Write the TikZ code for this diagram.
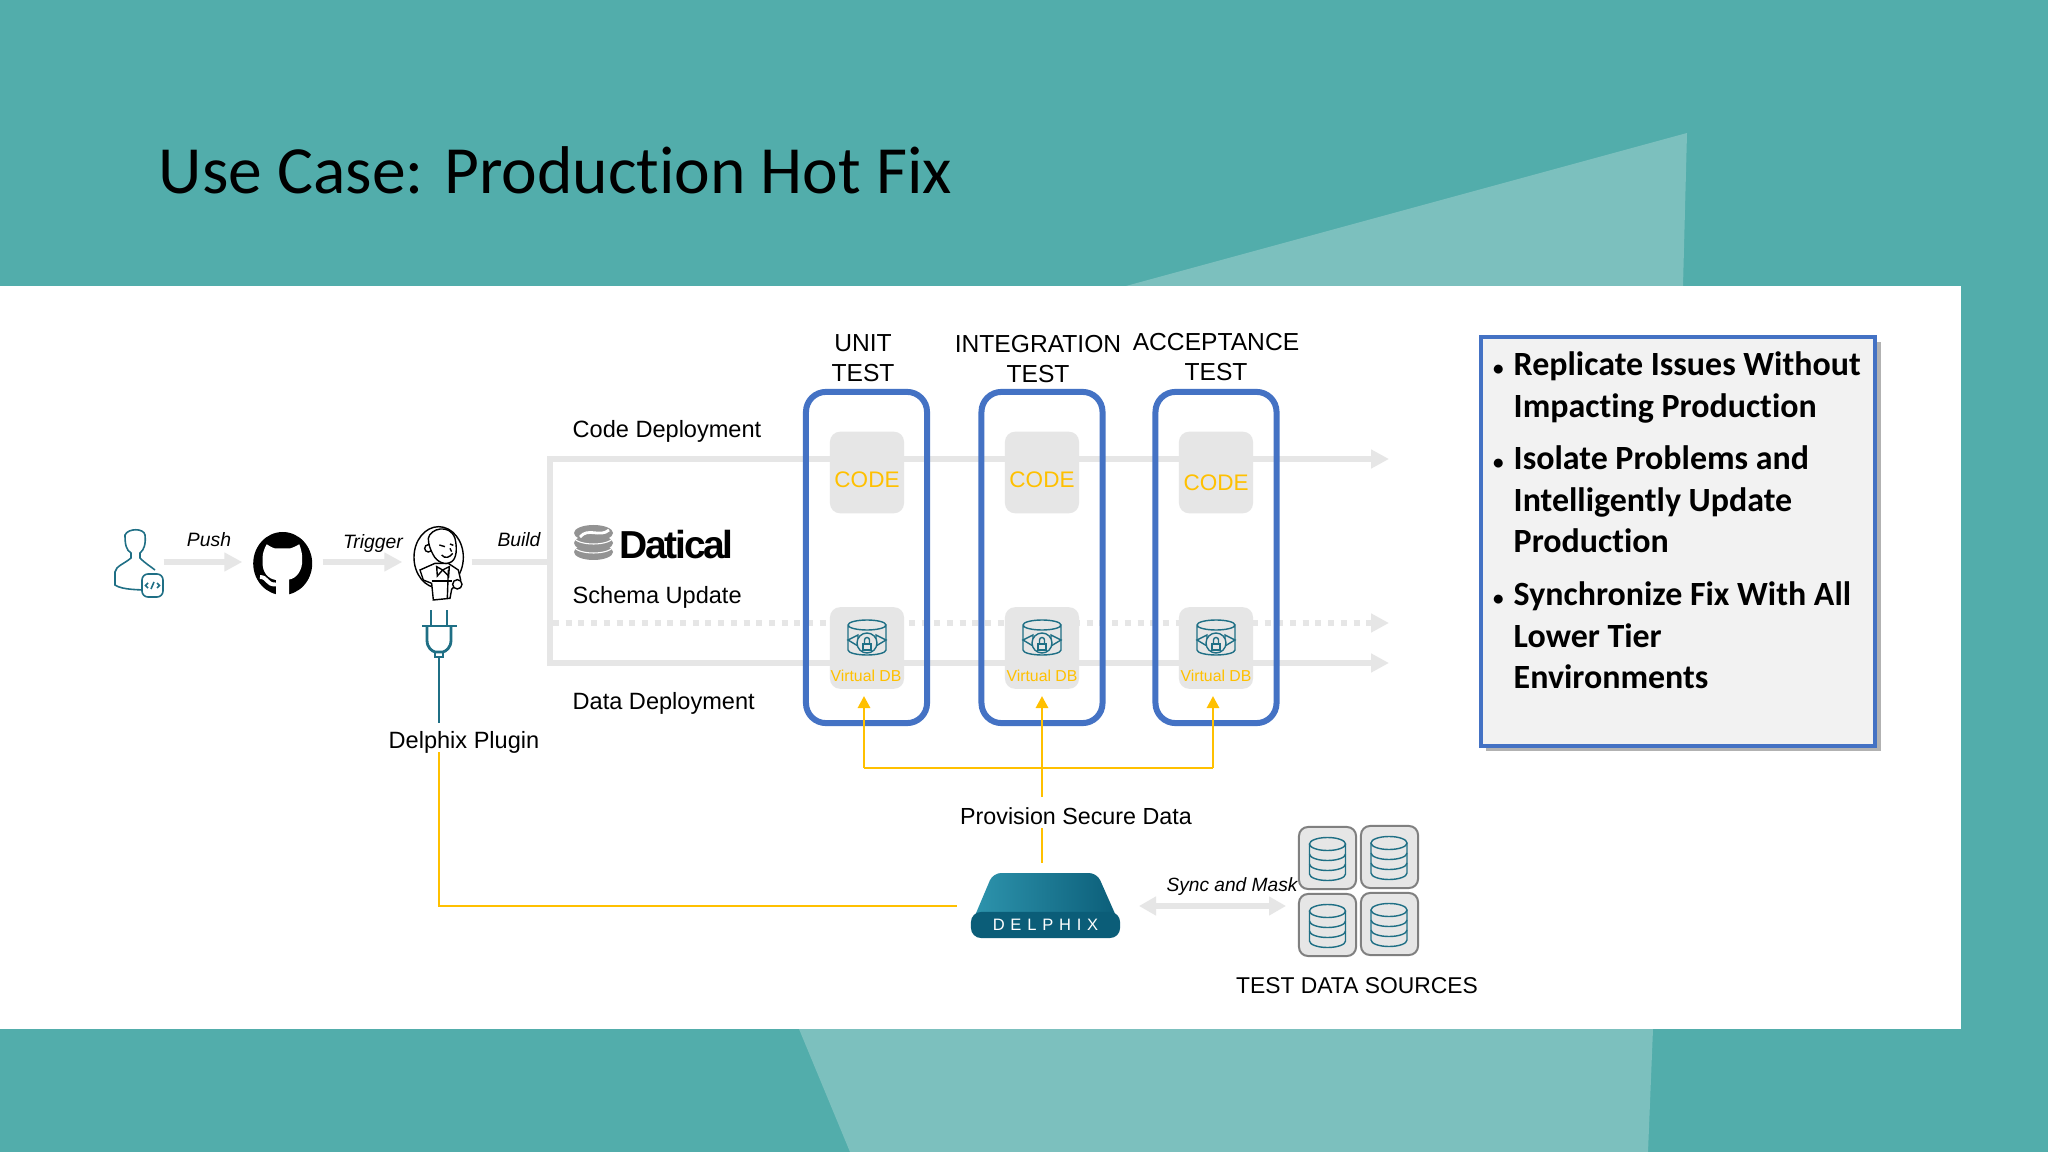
\documentclass[tikz,border=0pt]{standalone}
\usepackage{fontspec}
\usepackage{tikz}
\usetikzlibrary{arrows.meta}
\setmainfont{Liberation Sans}
\newfontfamily\calibrifont[Ligatures=NoCommon]{Carlito}
\newfontfamily\delphixfont[LetterSpace=35]{Liberation Sans}
\newfontfamily\daticalfont[LetterSpace=-6]{Liberation Sans}
\definecolor{slidebg}{HTML}{52ADAB}
\definecolor{slidelight}{HTML}{7CC0BE}
\definecolor{laneblue}{HTML}{4472C4}
\definecolor{lanegray}{HTML}{E6E6E6}
\definecolor{datayellow}{HTML}{FFC000}
\definecolor{icontone}{HTML}{1F6F85}
\definecolor{delphixdark}{HTML}{0B5D78}
\definecolor{delphixlight}{HTML}{2E95AE}
\tikzset{
  vdbicon/.pic={
    \draw [icontone, line width=0.4pt] (-19,0) arc (180:360:19 and 5) arc (0:180:19 and 5) -- (-19,-25) arc (180:360:19 and 5) -- (19,0);
    \draw [icontone, line width=0.4pt, fill=lanegray] (-19,-15) -- (-9,-10) -- (-9,-21) -- cycle;
    \draw [icontone, line width=0.4pt, fill=lanegray] (19,-15) -- (9,-10) -- (9,-21) -- cycle;
    \draw [icontone, line width=0.4pt, fill=lanegray] (0,-18) circle (10);
    \draw [icontone, line width=0.4pt] (-4,-19) rectangle (4,-25);
    \draw [icontone, line width=0.4pt] (-2.5,-19) -- (-2.5,-15) arc (180:0:2.5) -- (2.5,-19);
  },
  stackicon/.pic={
    \draw [icontone, line width=0.4pt] (0,0) ellipse (18 and 6.5);
    \draw [icontone, line width=0.4pt] (-18,0) -- (-18,-30) arc (180:360:18 and 6.5) -- (18,0);
    \draw [icontone, line width=0.4pt] (-18,-10) arc (180:360:18 and 6.5);
    \draw [icontone, line width=0.4pt] (-18,-20) arc (180:360:18 and 6.5);
  }
}
\begin{document}
\begin{tikzpicture}[x=0.01cm,y=0.01cm]
\tikzstyle{every node}+=[inner sep=0pt]
\tikzstyle{lanebox}=[draw=laneblue, line width=0.06cm, rounded corners=0.2cm, minimum width=1.21cm, minimum height=3.31cm]
\tikzstyle{stopbox}=[fill=lanegray, rounded corners=0.1cm, minimum width=0.74cm, minimum height=0.815cm]
\tikzstyle{sourcebox}=[draw=gray, fill=lanegray, line width=0.02cm, rounded corners=0.09cm, minimum width=0.57cm, minimum height=0.62cm]
\tikzstyle{grayline}=[lanegray, line width=0.06cm]
\tikzstyle{grayarrow}=[lanegray, line width=0.06cm, -{Triangle[length=0.18cm,width=0.18cm]}]
\tikzstyle{yellowline}=[datayellow, line width=0.028cm]
\tikzstyle{yellowarrow}=[datayellow, line width=0.028cm, -{Triangle[length=0.12cm,width=0.12cm]}]
\tikzstyle{tealline}=[icontone, line width=0.028cm]
\tikzstyle{label}=[anchor=base west, text=black, font=\fontsize{6.7pt}{8.5pt}\selectfont]
\tikzstyle{heading}=[anchor=north, align=center, text=black, font=\fontsize{7pt}{8.6pt}\selectfont]
\tikzstyle{action}=[anchor=base, text=black, font=\fontsize{5.5pt}{6.5pt}\selectfont\itshape]
\tikzstyle{codetext}=[text=datayellow, font=\fontsize{6.4pt}{8pt}\selectfont]
\tikzstyle{vdbtext}=[text=datayellow, font=\fontsize{4.5pt}{6pt}\selectfont]
\tikzstyle{bullettext}=[anchor=north west, align=left, text=black, font=\calibrifont\bfseries\fontsize{9.65pt}{11.8pt}\selectfont]
\useasboundingbox (0,0) rectangle (2048,-1152);
\fill [slidebg] (0,0) rectangle (2048,-1152);
\fill [slidelight] (1126,-286) -- (1687,-133) -- (1683,-286) -- cycle;
\fill [slidelight] (799,-1029) -- (1653,-1029) -- (1648,-1152) -- (850,-1152) -- cycle;
\fill [white] (0,-286) rectangle (1961,-1029);
\draw (158,-193.5) node [anchor=base west, text=black, font=\calibrifont\fontsize{19.2pt}{23pt}\selectfont] (title) {Use Case: Production Hot Fix};
\coordinate (railtop) at (550,-459);
\coordinate (railmid) at (550,-562);
\coordinate (railbot) at (550,-663);
\coordinate (dotstart) at (553,-623);
\coordinate (codeend) at (1389,-459);
\coordinate (dotend) at (1389,-623);
\coordinate (dataend) at (1389,-663);
\draw [grayarrow] (railtop) -- (codeend);
\draw [grayarrow] (railbot) -- (dataend);
\draw [grayarrow, dash pattern=on 0.06cm off 0.067cm] (dotstart) -- (dotend);
\draw [grayline, line cap=rect] (railtop) -- (railbot);
\draw (866.5,-557.5) node [lanebox] (unit) {};
\draw (1042,-557.5) node [lanebox] (integration) {};
\draw (1216,-557.5) node [lanebox] (acceptance) {};
\draw (863,-333.5) node [heading] (unithead) {UNIT\\TEST};
\draw (1038,-334.5) node [heading] (integrationhead) {INTEGRATION\\TEST};
\draw (1216,-332.5) node [heading] (acceptancehead) {ACCEPTANCE\\TEST};
\draw (867,-472.5) node [stopbox] (unitcode) {};
\draw (1042,-472.5) node [stopbox] (integrationcode) {};
\draw (1216,-472.5) node [stopbox] (acceptancecode) {};
\draw (867,-480) node [codetext] (unitcodetext) {CODE};
\draw (1042,-480) node [codetext] (integrationcodetext) {CODE};
\draw (1216,-483) node [codetext] (acceptancecodetext) {CODE};
\draw (867,-648) node [stopbox] (unitdb) {};
\draw (1042,-648) node [stopbox] (integrationdb) {};
\draw (1216,-648) node [stopbox] (acceptancedb) {};
\draw (867,-625) pic {vdbicon};
\draw (1042,-625) pic {vdbicon};
\draw (1216,-625) pic {vdbicon};
\draw (866,-676) node [vdbtext] (unitdbtext) {Virtual DB};
\draw (1042,-676) node [vdbtext] (integrationdbtext) {Virtual DB};
\draw (1216,-676) node [vdbtext] (acceptancedbtext) {Virtual DB};
\draw (572,-437.5) node [label] (codelabel) {Code Deployment};
\draw (572,-603.5) node [label] (schemalabel) {Schema Update};
\draw (572,-709) node [label] (datalabel) {Data Deployment};
\fill [gray!85] (593.5,-552) ellipse (19.5 and 8);
\draw [white, line width=0.3pt] (574,-546) arc (180:360:19.5 and 7);
\fill [gray!85] (593.5,-543) ellipse (19.5 and 8);
\draw [white, line width=0.3pt] (574,-537) arc (180:360:19.5 and 7);
\fill [gray!85] (593.5,-533) ellipse (19.5 and 8);
\draw [white, line width=0.8pt] (580,-537) .. controls (588,-527) and (600,-538) .. (609,-530);
\draw (619,-558) node [anchor=base west, text=black, font=\daticalfont\bfseries\fontsize{11.1pt}{13pt}\selectfont] (datical) {Datical};
\draw (138,-562) node [minimum width=0.5cm, minimum height=0.67cm] (developer) {};
\draw [icontone, line width=0.45pt] (155,-590) .. controls (140,-590) and (122,-590) .. (115,-585) -- (115,-572) .. controls (116,-566) and (124,-564) .. (131,-558) -- (131,-553) .. controls (126,-550) and (125,-544) .. (125,-535) .. controls (128,-528) and (144,-528) .. (145,-535) .. controls (146,-544) and (144,-550) .. (140,-553) -- (140,-558) .. controls (146,-564) and (150,-566) .. (155,-570);
\draw [icontone, line width=0.45pt, fill=white, rounded corners=0.06cm] (142,-574) rectangle (163,-597);
\draw [icontone, line width=0.45pt] (148,-583) -- (145.5,-585.5) -- (148,-588);
\draw [icontone, line width=0.45pt] (157,-583) -- (159.5,-585.5) -- (157,-588);
\draw [icontone, line width=0.45pt] (154,-582) -- (151,-589);
\draw (282.5,-562) node [minimum width=0.79cm, minimum height=0.6cm] (github) {};
\fill [black] (282.7,-563.5) ellipse (29.5 and 31.5);
\fill [white] (266.7,-544.3) .. controls (271,-547) and (273,-548) .. (275,-548.5) -- (290,-548.5) .. controls (293,-548) and (296,-546) .. (299.3,-544.3) .. controls (302,-552) and (302.5,-556) .. (302,-560) .. controls (303,-570) and (296,-579) .. (289,-579.5) -- (289,-596) -- (276,-596) -- (276,-580) .. controls (268,-579) and (262,-572) .. (262.7,-562) .. controls (262,-556) and (263,-551) .. (266.7,-544.3) -- cycle;
\draw [white, line width=1.1pt] (260,-577) .. controls (268,-577) and (266,-585) .. (276,-584.5);
\draw (437,-562) node [minimum width=0.68cm, minimum height=0.76cm] (jenkins) {};
\begin{scope}[shift={(400,-520)},scale=0.3333]
\draw [black, line width=0.4pt, fill=white] (116,-112) ellipse (74 and 92);
\draw [black, line width=0.4pt, fill=white] (60,-150) -- (105,-130) -- (145,-130) -- (175,-150) -- (182,-180) -- (155,-208) -- (150,-235) -- (100,-240) -- (95,-190) -- (70,-180) -- cycle;
\draw [black, line width=0.4pt] (95,-183) -- (155,-183);
\draw [black, line width=0.4pt] (145,-150) -- (142,-235);
\draw [black, line width=0.4pt, fill=white] (85,-85) circle (11);
\draw [black, line width=0.4pt, fill=white] (85,-55) .. controls (90,-25) and (150,-10) .. (165,-55) .. controls (172,-85) and (170,-115) .. (155,-125) .. controls (135,-138) and (110,-125) .. (100,-105) .. controls (92,-90) and (85,-75) .. (85,-55) -- cycle;
\draw [black, line width=0.4pt] (118,-75) -- (135,-80);
\draw [black, line width=0.4pt] (150,-72) -- (160,-76);
\draw [black, line width=0.4pt] (125,-105) .. controls (135,-118) and (150,-112) .. (158,-100);
\draw [black, line width=0.4pt] (150,-85) -- (155,-95);
\draw [black, line width=0.4pt] (110,-140) -- (128,-150) -- (112,-168) -- cycle;
\draw [black, line width=0.4pt] (148,-140) -- (128,-150) -- (146,-168) -- cycle;
\draw [black, line width=0.4pt, fill=white] (172,-193) circle (14);
\end{scope}
\draw [grayarrow] (developer) -- (github);
\draw [grayarrow] (github) -- (jenkins);
\draw [grayline] (jenkins) -- (railmid);
\draw (209,-547) node [action] (pushlabel) {Push};
\draw (373,-549) node [action] (triggerlabel) {Trigger};
\draw (519,-547) node [action] (buildlabel) {Build};
\draw (464,-742) node [anchor=center, text=black, font=\fontsize{6.7pt}{8pt}\selectfont] (plugintext) {Delphix Plugin};
\coordinate (plugtop) at (439,-657);
\coordinate (plugfoot) at (439,-723);
\draw [tealline] (431,-610) -- (431,-626);
\draw [tealline] (447,-610) -- (447,-626);
\draw [tealline] (422,-626) -- (457,-626);
\draw [tealline] (427,-626) -- (427,-640) .. controls (427,-648) and (432,-651) .. (435,-652) -- (443,-652) .. controls (446,-651) and (451,-648) .. (451,-640) -- (451,-626);
\draw [tealline] (435,-652) rectangle (443,-657);
\draw [tealline] (plugtop) -- (plugfoot);
\coordinate (yellowstart) at (439,-752);
\coordinate (delphixwest) at (957,-906);
\draw [yellowline] (yellowstart) |- (delphixwest);
\coordinate (railleft) at (864,-768);
\coordinate (railright) at (1213,-768);
\coordinate (unitin) at (864,-696);
\coordinate (integrationin) at (1042,-696);
\coordinate (acceptancein) at (1213,-696);
\coordinate (provisionfoot) at (1042,-797);
\draw [yellowline] (railleft) -- (railright);
\draw [yellowarrow] (railleft) -- (unitin);
\draw [yellowarrow] (provisionfoot) -- (integrationin);
\draw [yellowarrow] (railright) -- (acceptancein);
\draw (1076,-816) node [text=black, font=\fontsize{6.62pt}{8pt}\selectfont] (provision) {Provision Secure Data};
\coordinate (provisionlow) at (1042,-828);
\coordinate (delphixnorth) at (1042,-863);
\draw [yellowline] (provisionlow) -- (delphixnorth);
\shade [left color=delphixlight, right color=delphixdark, rounded corners=0.08cm] (993,-873) -- (1097,-873) -- (1120,-925) -- (971,-925) -- cycle;
\draw (1045.5,-925) node [fill=delphixdark, rounded corners=0.1cm, minimum width=1.49cm, minimum height=0.26cm, text=white, font=\delphixfont\fontsize{4.7pt}{6pt}\selectfont] (delphix) {DELPHIX};
\coordinate (syncleft) at (1139,-906);
\coordinate (syncright) at (1286,-906);
\draw [lanegray, line width=0.06cm, {Triangle[length=0.17cm,width=0.18cm]}-{Triangle[length=0.17cm,width=0.18cm]}] (syncleft) -- (syncright);
\draw (1232,-891) node [action, font=\fontsize{5.45pt}{6pt}\selectfont\itshape] (synclabel) {Sync and Mask};
\draw (1327.5,-858) node [sourcebox] (sourcea) {};
\draw (1389.5,-857) node [sourcebox] (sourceb) {};
\draw (1327.5,-925) node [sourcebox] (sourcec) {};
\draw (1389.5,-924) node [sourcebox] (sourced) {};
\draw (1327.5,-844) pic {stackicon};
\draw (1389,-843) pic {stackicon};
\draw (1327.5,-911) pic {stackicon};
\draw (1389,-910) pic {stackicon};
\draw (1357,-993) node [anchor=base, text=black, font=\fontsize{6.5pt}{8pt}\selectfont] (sourceslabel) {TEST DATA SOURCES};
\fill [gray!60] (1486,-342) rectangle (1881,-751);
\draw (1678,-541.5) node [draw=laneblue, fill=black!5, line width=0.04cm, minimum width=3.94cm, minimum height=4.09cm] (panel) {};
\draw (1513,-351) node [bullettext] (bulletone) {\llap{\fontsize{6pt}{6pt}\selectfont\textbullet\hspace{0.1cm}}Replicate Issues Without\\Impacting Production};
\draw (1513,-445) node [bullettext] (bullettwo) {\llap{\fontsize{6pt}{6pt}\selectfont\textbullet\hspace{0.1cm}}Isolate Problems and\\Intelligently Update\\Production};
\draw (1513,-581) node [bullettext] (bulletthree) {\llap{\fontsize{6pt}{6pt}\selectfont\textbullet\hspace{0.1cm}}Synchronize Fix With All\\Lower Tier\\Environments};
\end{tikzpicture}
\end{document}
